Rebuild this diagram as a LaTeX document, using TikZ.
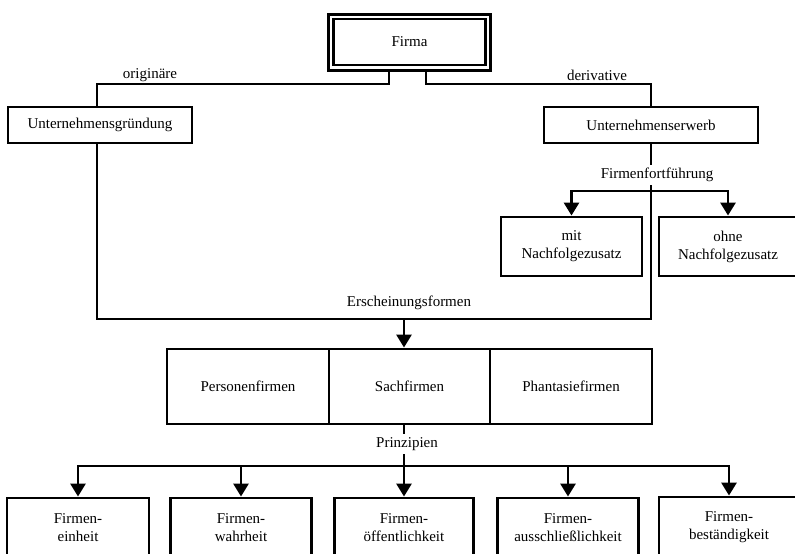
\documentclass[tikz,border=0pt]{standalone}
\usepackage{fontspec}
\setmainfont{Liberation Serif}
\usetikzlibrary{arrows.meta}
\begin{document}
\begin{tikzpicture}[x=1pt,y=1pt,
  txt/.style={font=\fontsize{15}{18}\selectfont},
  box/.style={draw, line width=2.9pt, inner sep=0pt, align=center, txt},
  conn/.style={line width=2.9pt},
  arr/.style={conn, -{Triangle[width=15pt,length=13pt]}},
  lbl/.style={inner sep=2pt, txt},
  cover/.style={lbl, fill=white, inner sep=3pt},
]
\useasboundingbox (0,0) rectangle (795,-554);
\fill[white] (0,0) rectangle (795,-554);
\clip (0,0) rectangle (795,-554);

% Firma (double frame)
\node[box, line width=3.4pt, minimum width=162pt, minimum height=56pt] (firmaouter) at (409.5,-42.5) {};
\node[box, line width=2.2pt, minimum width=152pt, minimum height=46pt] (firma) at (409.5,-42) {Firma};

% second level
\node[box, minimum width=184pt, minimum height=36pt] (ug) at (100,-125) {Unternehmensgründung};
\node[box, minimum width=214pt, minimum height=36pt] (ue) at (651,-125) {Unternehmenserwerb};

\coordinate (hl) at (0,-84);
\coordinate (ugin) at ([xshift=-3pt]ug.north);
\coordinate (ugout) at ([xshift=-3pt]ug.south);
\draw[conn] ([xshift=-20.5pt]firmaouter.south) |- (ugin |- hl) -- (ugin);
\draw[conn] ([xshift=16.5pt]firmaouter.south) |- (ue.north |- hl) -- (ue.north);
\node[lbl] (orig) at (150,-75) {originäre};
\node[lbl] (deriv) at (597,-75) {derivative};

% Firmenfortfuehrung
\node[box, minimum width=141pt, minimum height=59pt] (mit) at (571.5,-246.5) {mit\\Nachfolgezusatz};
\node[box, minimum width=138pt, minimum height=59pt] (ohne) at (728,-246.5) {ohne\\Nachfolgezusatz};

% Erscheinungsformen frame
\coordinate (ersch) at (404,-319);
\draw[conn] (ugout) |- (ue.south |- ersch) -- (ue.south);
\node[lbl] (erschl) at (409,-303) {Erscheinungsformen};

\coordinate (ff) at (651,-191);
\node[cover] (ffl) at (657,-175) {Firmenfortführung};
\draw[arr] (ff) -| (mit.north);
\draw[arr] (ff) -| (ohne.north);

% Erscheinungsformen boxes
\node[box, minimum width=162pt, minimum height=75pt] (pers) at (248,-386.5) {Personenfirmen};
\node[box, minimum width=161pt, minimum height=75pt] (sach) at (409.5,-386.5) {Sachfirmen};
\node[box, minimum width=162pt, minimum height=75pt] (phan) at (571,-386.5) {Phantasiefirmen};
\draw[arr] (ersch) -- (ersch |- sach.north);

% Prinzipien
\node[box, minimum width=142pt, minimum height=60pt] (b1) at (78,-528) {Firmen-\\einheit};
\node[box, minimum width=141pt, minimum height=60pt] (b2) at (241,-528) {Firmen-\\wahrheit};
\node[box, minimum width=139pt, minimum height=60pt] (b3) at (404,-528) {Firmen-\\öffentlichkeit};
\node[box, minimum width=141pt, minimum height=60pt] (b4) at (568,-528) {Firmen-\\ausschließlichkeit};
\node[box, minimum width=140pt, minimum height=60pt] (b5) at (729,-527) {Firmen-\\beständigkeit};

\coordinate (pr) at (404,-466);
\draw[conn] (ersch |- sach.south) -- (pr);
\node[cover] (prl) at (407,-444) {Prinzipien};
\foreach \b in {b1,b2,b3,b4,b5} {
  \draw[arr] (pr) -| (\b.north);
}
\end{tikzpicture}
\end{document}
